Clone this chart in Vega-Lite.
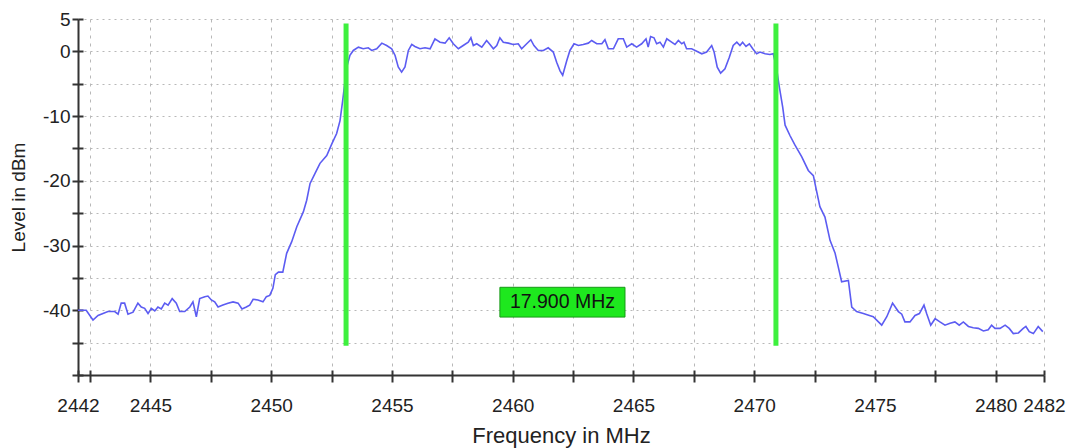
{
  "$schema": "https://vega.github.io/schema/vega-lite/v6.json",
  "width": 966,
  "height": 356,
  "autosize": {"type": "none"},
  "padding": {"left": 78, "top": 19, "right": 26, "bottom": 73},
  "background": "white",
  "config": {"view": {"stroke": null}, "font": "Liberation Sans"},
  "resolve": {"axis": {"x": "independent", "y": "independent"}},
  "datasets": {
    "trace": [
      {"f": 2442.00, "v": -40.0}, {"f": 2442.34, "v": -40.0}, {"f": 2442.62, "v": -41.5}, {"f": 2442.83, "v": -40.8},
      {"f": 2443.24, "v": -40.2}, {"f": 2443.52, "v": -40.2}, {"f": 2443.66, "v": -40.6}, {"f": 2443.79, "v": -38.9},
      {"f": 2443.93, "v": -38.9}, {"f": 2444.07, "v": -40.6}, {"f": 2444.28, "v": -40.3}, {"f": 2444.48, "v": -38.9},
      {"f": 2444.62, "v": -39.5}, {"f": 2444.76, "v": -39.7}, {"f": 2444.90, "v": -40.5}, {"f": 2445.04, "v": -39.7},
      {"f": 2445.18, "v": -40.1}, {"f": 2445.31, "v": -39.5}, {"f": 2445.45, "v": -39.8}, {"f": 2445.59, "v": -38.9},
      {"f": 2445.73, "v": -39.2}, {"f": 2445.90, "v": -38.2}, {"f": 2446.07, "v": -38.9}, {"f": 2446.21, "v": -40.2},
      {"f": 2446.42, "v": -40.2}, {"f": 2446.63, "v": -39.5}, {"f": 2446.76, "v": -38.7}, {"f": 2446.90, "v": -41.0},
      {"f": 2447.04, "v": -38.2}, {"f": 2447.25, "v": -37.9}, {"f": 2447.38, "v": -37.8}, {"f": 2447.52, "v": -38.4},
      {"f": 2447.66, "v": -38.7}, {"f": 2447.80, "v": -39.5}, {"f": 2448.00, "v": -39.2}, {"f": 2448.21, "v": -38.9},
      {"f": 2448.42, "v": -38.7}, {"f": 2448.63, "v": -38.9}, {"f": 2448.79, "v": -39.8}, {"f": 2448.97, "v": -39.5},
      {"f": 2449.11, "v": -39.2}, {"f": 2449.25, "v": -38.3}, {"f": 2449.45, "v": -38.4}, {"f": 2449.66, "v": -38.7},
      {"f": 2449.80, "v": -37.9}, {"f": 2449.94, "v": -37.7}, {"f": 2450.07, "v": -36.6}, {"f": 2450.17, "v": -34.5},
      {"f": 2450.30, "v": -34.1}, {"f": 2450.48, "v": -34.1}, {"f": 2450.64, "v": -31.2}, {"f": 2450.85, "v": -29.4},
      {"f": 2451.06, "v": -27.1}, {"f": 2451.33, "v": -24.8}, {"f": 2451.47, "v": -23.0}, {"f": 2451.61, "v": -20.4},
      {"f": 2451.81, "v": -18.9}, {"f": 2452.02, "v": -17.3}, {"f": 2452.30, "v": -16.1}, {"f": 2452.51, "v": -14.3},
      {"f": 2452.71, "v": -12.7}, {"f": 2452.85, "v": -10.7}, {"f": 2452.96, "v": -7.6}, {"f": 2453.06, "v": -4.5},
      {"f": 2453.13, "v": -2.4}, {"f": 2453.26, "v": -0.6}, {"f": 2453.40, "v": 0.14}, {"f": 2453.61, "v": 0.65},
      {"f": 2453.81, "v": 0.4}, {"f": 2454.02, "v": 0.55}, {"f": 2454.16, "v": 0.14}, {"f": 2454.37, "v": 0.4},
      {"f": 2454.58, "v": 1.27}, {"f": 2454.78, "v": 0.9}, {"f": 2454.99, "v": 0.4}, {"f": 2455.13, "v": -0.63},
      {"f": 2455.26, "v": -2.4}, {"f": 2455.40, "v": -3.2}, {"f": 2455.54, "v": -2.4}, {"f": 2455.68, "v": 0.14},
      {"f": 2455.82, "v": 1.07}, {"f": 2455.95, "v": 0.76}, {"f": 2456.16, "v": 0.4}, {"f": 2456.37, "v": 0.55},
      {"f": 2456.58, "v": 0.4}, {"f": 2456.78, "v": 1.94}, {"f": 2456.99, "v": 1.42}, {"f": 2457.20, "v": 1.27},
      {"f": 2457.37, "v": 2.1}, {"f": 2457.54, "v": 1.17}, {"f": 2457.75, "v": 0.4}, {"f": 2457.95, "v": 0.9},
      {"f": 2458.16, "v": 1.42}, {"f": 2458.27, "v": 2.1}, {"f": 2458.37, "v": 0.9}, {"f": 2458.51, "v": 1.17},
      {"f": 2458.72, "v": 0.65}, {"f": 2458.92, "v": 1.68}, {"f": 2459.06, "v": 1.07}, {"f": 2459.20, "v": 0.4},
      {"f": 2459.34, "v": 0.9}, {"f": 2459.47, "v": 2.1}, {"f": 2459.61, "v": 1.42}, {"f": 2459.82, "v": 1.27},
      {"f": 2460.02, "v": 1.07}, {"f": 2460.23, "v": 1.17}, {"f": 2460.37, "v": 0.4}, {"f": 2460.58, "v": 1.17},
      {"f": 2460.75, "v": 1.8}, {"f": 2460.88, "v": 0.9}, {"f": 2461.06, "v": 0.14}, {"f": 2461.27, "v": 0.14},
      {"f": 2461.47, "v": 0.55}, {"f": 2461.68, "v": -0.1}, {"f": 2461.82, "v": -1.67}, {"f": 2461.96, "v": -3.0},
      {"f": 2462.07, "v": -3.7}, {"f": 2462.24, "v": -1.4}, {"f": 2462.37, "v": 0.14}, {"f": 2462.54, "v": 1.17},
      {"f": 2462.72, "v": 0.9}, {"f": 2462.92, "v": 1.07}, {"f": 2463.13, "v": 1.27}, {"f": 2463.27, "v": 1.68},
      {"f": 2463.48, "v": 1.17}, {"f": 2463.69, "v": 1.17}, {"f": 2463.82, "v": 1.8}, {"f": 2463.96, "v": 0.4},
      {"f": 2464.17, "v": 0.4}, {"f": 2464.37, "v": 1.94}, {"f": 2464.58, "v": 1.94}, {"f": 2464.72, "v": 0.65},
      {"f": 2464.93, "v": 1.17}, {"f": 2465.13, "v": 0.65}, {"f": 2465.34, "v": 1.17}, {"f": 2465.52, "v": 1.94},
      {"f": 2465.61, "v": 0.65}, {"f": 2465.71, "v": 2.3}, {"f": 2465.85, "v": 2.1}, {"f": 2465.96, "v": 1.17},
      {"f": 2466.10, "v": 1.42}, {"f": 2466.24, "v": 0.65}, {"f": 2466.38, "v": 1.94}, {"f": 2466.58, "v": 1.42},
      {"f": 2466.72, "v": 1.07}, {"f": 2466.86, "v": 1.68}, {"f": 2467.00, "v": 1.17}, {"f": 2467.09, "v": 1.42},
      {"f": 2467.20, "v": 0.4}, {"f": 2467.41, "v": 0.4}, {"f": 2467.62, "v": 0.03}, {"f": 2467.83, "v": -0.37},
      {"f": 2468.03, "v": -0.1}, {"f": 2468.24, "v": 0.9}, {"f": 2468.34, "v": -0.1}, {"f": 2468.47, "v": -2.44},
      {"f": 2468.61, "v": -3.36}, {"f": 2468.79, "v": -2.7}, {"f": 2468.97, "v": -0.9}, {"f": 2469.13, "v": 0.9},
      {"f": 2469.28, "v": 1.42}, {"f": 2469.41, "v": 0.9}, {"f": 2469.52, "v": 1.42}, {"f": 2469.66, "v": 0.76},
      {"f": 2469.80, "v": 1.17}, {"f": 2469.94, "v": 0.4}, {"f": 2470.10, "v": -0.37}, {"f": 2470.24, "v": -0.1},
      {"f": 2470.45, "v": -0.37}, {"f": 2470.65, "v": -0.48}, {"f": 2470.79, "v": -0.37}, {"f": 2470.92, "v": -2.5},
      {"f": 2471.04, "v": -5.5}, {"f": 2471.18, "v": -8.6}, {"f": 2471.28, "v": -11.4}, {"f": 2471.48, "v": -13.0},
      {"f": 2471.69, "v": -14.5}, {"f": 2471.97, "v": -16.3}, {"f": 2472.24, "v": -18.4}, {"f": 2472.45, "v": -19.2},
      {"f": 2472.59, "v": -21.7}, {"f": 2472.72, "v": -24.0}, {"f": 2472.93, "v": -25.6}, {"f": 2473.14, "v": -29.2},
      {"f": 2473.35, "v": -31.2}, {"f": 2473.48, "v": -33.3}, {"f": 2473.62, "v": -35.6}, {"f": 2473.90, "v": -35.4},
      {"f": 2474.04, "v": -39.5}, {"f": 2474.24, "v": -40.2}, {"f": 2474.52, "v": -40.5}, {"f": 2474.77, "v": -40.8},
      {"f": 2474.93, "v": -41.0}, {"f": 2475.28, "v": -42.3}, {"f": 2475.49, "v": -41.0}, {"f": 2475.73, "v": -38.9},
      {"f": 2475.97, "v": -40.2}, {"f": 2476.11, "v": -40.6}, {"f": 2476.24, "v": -41.8}, {"f": 2476.45, "v": -41.8},
      {"f": 2476.66, "v": -40.8}, {"f": 2476.84, "v": -40.5}, {"f": 2477.03, "v": -39.2}, {"f": 2477.14, "v": -40.5},
      {"f": 2477.31, "v": -42.3}, {"f": 2477.49, "v": -41.3}, {"f": 2477.69, "v": -41.8}, {"f": 2477.90, "v": -42.3},
      {"f": 2478.11, "v": -42.0}, {"f": 2478.31, "v": -41.8}, {"f": 2478.49, "v": -42.3}, {"f": 2478.66, "v": -41.8},
      {"f": 2478.87, "v": -42.5}, {"f": 2479.07, "v": -42.7}, {"f": 2479.28, "v": -42.8}, {"f": 2479.49, "v": -43.2},
      {"f": 2479.69, "v": -43.0}, {"f": 2479.83, "v": -42.3}, {"f": 2479.97, "v": -42.8}, {"f": 2480.18, "v": -42.8},
      {"f": 2480.39, "v": -42.3}, {"f": 2480.56, "v": -42.8}, {"f": 2480.73, "v": -43.6}, {"f": 2480.94, "v": -43.5},
      {"f": 2481.14, "v": -42.8}, {"f": 2481.25, "v": -42.5}, {"f": 2481.39, "v": -43.3}, {"f": 2481.56, "v": -43.6},
      {"f": 2481.76, "v": -42.5}, {"f": 2481.95, "v": -43.3}
    ],
    "markers": [
      {"f": 2453.1, "v": 4.3, "v2": -45.5},
      {"f": 2470.9, "v": 4.3, "v2": -45.5}
    ],
    "label": [
      {"f": 2459.47, "f2": 2464.65, "v": -36.45, "v2": -41.05, "fc": 2462.06, "vc": -38.75, "text": "17.900 MHz"}
    ]
  },
  "layer": [
    {
      "data": {"name": "trace"},
      "mark": {"type": "line", "color": "#5c5cf2", "strokeWidth": 1.6},
      "encoding": {
        "x": {
          "field": "f", "type": "quantitative",
          "scale": {"domain": [2442, 2482], "nice": false, "zero": false},
          "axis": {
            "title": "Frequency in MHz",
            "orient": "bottom",
            "values": [2442, 2442.5, 2445, 2447.5, 2450, 2452.5, 2455, 2457.5, 2460, 2462.5, 2465, 2467.5, 2470, 2472.5, 2475, 2477.5, 2480, 2482],
            "labelExpr": "(datum.value % 5 === 0 || datum.value === 2442 || datum.value === 2482) ? '' + datum.value : ''",
            "labelOverlap": false, "labelFlush": false, "labelBound": false,
            "grid": true, "gridDash": [3, 5], "gridColor": "#b8b8b8", "gridWidth": 1,
            "domainColor": "#333333", "domainWidth": 2,
            "tickColor": "#333333", "tickWidth": 2, "tickSize": 7,
            "labelFontSize": 19, "labelColor": "#222222", "labelPadding": 14,
            "titleFontSize": 22, "titleFontWeight": "normal", "titleColor": "#222222", "titlePadding": 10
          }
        },
        "y": {
          "field": "v", "type": "quantitative",
          "scale": {"domain": [-50, 5], "nice": false, "zero": false},
          "axis": {
            "title": "Level in dBm",
            "orient": "left",
            "tickCount": 12,
            "labelExpr": "(datum.value > 4.9 || (datum.value % 10 === 0 && datum.value > -45)) ? '' + datum.value : ''",
            "labelOverlap": false, "labelFlush": false, "labelBound": false,
            "grid": true, "gridDash": [2, 4], "gridColor": "#b8b8b8", "gridWidth": 1,
            "domainColor": "#333333", "domainWidth": 2,
            "tickColor": "#333333", "tickWidth": 2, "tickSize": 6,
            "labelFontSize": 19, "labelColor": "#222222", "labelPadding": 2,
            "titleFontSize": 19, "titleFontWeight": "normal", "titleColor": "#222222", "titlePadding": 14
          }
        }
      }
    },
    {
      "data": {"name": "markers"},
      "mark": {"type": "rule", "color": "#3ef03e", "strokeWidth": 5},
      "encoding": {
        "x": {
          "field": "f", "type": "quantitative",
          "axis": {
            "orient": "bottom", "title": null, "labels": false, "domain": false, "grid": false,
            "values": [2442, 2442.5, 2445, 2447.5, 2450, 2452.5, 2455, 2457.5, 2460, 2462.5, 2465, 2467.5, 2470, 2472.5, 2475, 2477.5, 2480, 2482],
            "tickColor": "#333333", "tickWidth": 2, "tickSize": -5
          }
        },
        "y": {
          "field": "v", "type": "quantitative",
          "axis": {
            "orient": "left", "title": null, "labels": false, "domain": false, "grid": false,
            "tickCount": 12,
            "tickColor": "#333333", "tickWidth": 2, "tickSize": -5
          }
        },
        "y2": {"field": "v2"}
      }
    },
    {
      "data": {"name": "label"},
      "mark": {"type": "rect", "fill": "#1ee81e", "stroke": "#179a17", "strokeWidth": 1},
      "encoding": {
        "x": {"field": "f", "type": "quantitative", "axis": null},
        "x2": {"field": "f2"},
        "y": {"field": "v", "type": "quantitative", "axis": null},
        "y2": {"field": "v2"}
      }
    },
    {
      "data": {"name": "label"},
      "mark": {"type": "text", "fontSize": 19.5, "color": "#111111", "align": "center", "baseline": "middle"},
      "encoding": {
        "x": {"field": "fc", "type": "quantitative", "axis": null},
        "y": {"field": "vc", "type": "quantitative", "axis": null},
        "text": {"field": "text"}
      }
    }
  ]
}
